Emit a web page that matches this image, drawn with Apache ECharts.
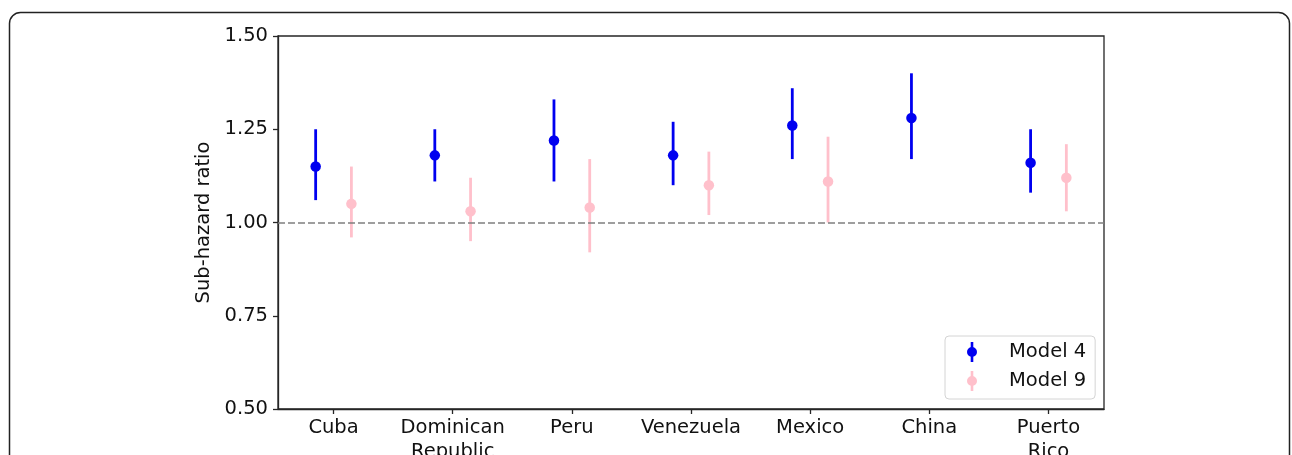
<!DOCTYPE html>
<html>
<head>
<meta charset="utf-8">
<script src="https://cdn.jsdelivr.net/npm/echarts@6/dist/echarts.min.js"></script>
<style>html,body{margin:0;padding:0;background:#fff;}#c{width:1292px;height:455px;}</style>
</head>
<body>
<div id="c"></div>
<script>
const categories = ['Cuba', 'Dominican\nRepublic', 'Peru', 'Venezuela', 'Mexico', 'China', 'Puerto\nRico'];
const yTicks = [0.5, 0.75, 1.0, 1.25, 1.5];
const model4Mean = [1.15, 1.18, 1.22, 1.18, 1.26, 1.28, 1.16];
const model4Low  = [1.06, 1.11, 1.11, 1.10, 1.17, 1.17, 1.08];
const model4High = [1.25, 1.25, 1.33, 1.27, 1.36, 1.40, 1.25];
const model9Mean = [1.05, 1.03, 1.04, 1.10, 1.11, null, 1.12];
const model9Low  = [0.96, 0.95, 0.92, 1.02, 1.00, null, 1.03];
const model9High = [1.15, 1.12, 1.17, 1.19, 1.23, null, 1.21];
const referenceLine = 1.0;

const FONT = 'DejaVu Sans';
const FS = 19.5;
const BLUE = '#0000f0';
const PINK = '#ffc0cb';
const OFF = 0.15;
const iconPath = 'path://M3.7,0 L6.3,0 L6.3,20 L3.7,20 Z M0,10 A5,5 0 1,1 10,10 A5,5 0 1,1 0,10 Z';

function pointData(mean, off) {
  const out = [];
  mean.forEach((m, i) => { if (m !== null) out.push([i + off, m]); });
  return out;
}
function barData(low, high, off) {
  const out = [];
  low.forEach((l, i) => { if (l !== null) out.push([i + off, l, high[i]]); });
  return out;
}
function errRender(color) {
  return function (params, api) {
    const p1 = api.coord([api.value(0), api.value(1)]);
    const p2 = api.coord([api.value(0), api.value(2)]);
    return {
      type: 'line',
      shape: { x1: p1[0], y1: p1[1], x2: p2[0], y2: p2[1] },
      style: { stroke: color, lineWidth: 2.8 }
    };
  };
}
const idx = categories.map((_, i) => i);

const chart = echarts.init(document.getElementById('c'), null, { renderer: 'canvas' });
chart.setOption({
  animation: false,
  backgroundColor: '#fff',
  textStyle: { fontFamily: FONT },
  graphic: [{
    type: 'rect',
    shape: { x: 9.5, y: 12.5, width: 1280, height: 470, r: 11 },
    style: { fill: 'none', stroke: '#222', lineWidth: 1.5 },
    silent: true, z: 100
  }],
  grid: {
    left: 278, right: 188, top: 36, bottom: 46,
    outerBoundsMode: 'none', containLabel: false,
    show: true, borderColor: '#262626', borderWidth: 1.3, backgroundColor: 'transparent'
  },
  legend: {
    orient: 'vertical',
    left: 945, top: 336,
    padding: [6, 9, 8, 22],
    itemWidth: 10, itemHeight: 20, itemGap: 9,
    borderColor: '#d4d4d4', borderWidth: 1, borderRadius: 4,
    backgroundColor: '#fff',
    textStyle: { fontFamily: FONT, fontSize: FS, color: '#111', padding: [0, 0, 0, 27] },
    data: [
      { name: 'Model 4', icon: iconPath, itemStyle: { color: BLUE } },
      { name: 'Model 9', icon: iconPath, itemStyle: { color: PINK } }
    ],
    selectedMode: false
  },
  xAxis: {
    type: 'value',
    min: -0.466, max: 6.466,
    splitLine: { show: false },
    axisLine: { show: true, onZero: false, lineStyle: { color: '#262626', width: 1.3 } },
    axisTick: { show: true, customValues: idx, length: 5, lineStyle: { color: '#262626', width: 1.3 } },
    axisLabel: {
      customValues: idx,
      formatter: v => categories[Math.round(v)],
      fontFamily: FONT, fontSize: FS, color: '#111', margin: 7, lineHeight: 24
    }
  },
  yAxis: {
    type: 'value',
    min: 0.5, max: 1.5, interval: 0.25,
    name: 'Sub-hazard ratio',
    nameLocation: 'middle', nameGap: 57,
    nameTextStyle: { fontFamily: FONT, fontSize: FS, color: '#111' },
    splitLine: { show: false },
    axisLine: { show: true, onZero: false, lineStyle: { color: '#262626', width: 1.3 } },
    axisTick: { show: true, length: 5, lineStyle: { color: '#262626', width: 1.3 } },
    axisLabel: {
      customValues: yTicks,
      formatter: v => v.toFixed(2),
      fontFamily: FONT, fontSize: FS, color: '#111', margin: 10
    }
  },
  series: [
    {
      name: 'Model 4', type: 'custom', renderItem: errRender(BLUE),
      data: barData(model4Low, model4High, -OFF),
      itemStyle: { color: BLUE }, z: 3,
      encode: { x: 0, y: [1, 2] }
    },
    {
      name: 'Model 4', type: 'scatter', symbol: 'circle', symbolSize: 10.5,
      data: pointData(model4Mean, -OFF),
      itemStyle: { color: BLUE, opacity: 1 }, z: 4,
      markLine: {
        silent: true, symbol: ['none', 'none'],
        label: { show: false },
        lineStyle: { color: '#7f7f7f', type: [7, 3], width: 1.6 },
        data: [{ yAxis: referenceLine }]
      }
    },
    {
      name: 'Model 9', type: 'custom', renderItem: errRender(PINK),
      data: barData(model9Low, model9High, OFF),
      itemStyle: { color: PINK }, z: 3,
      encode: { x: 0, y: [1, 2] }
    },
    {
      name: 'Model 9', type: 'scatter', symbol: 'circle', symbolSize: 10.5,
      data: pointData(model9Mean, OFF),
      itemStyle: { color: PINK, opacity: 1 }, z: 4
    }
  ]
});
</script>
</body>
</html>
